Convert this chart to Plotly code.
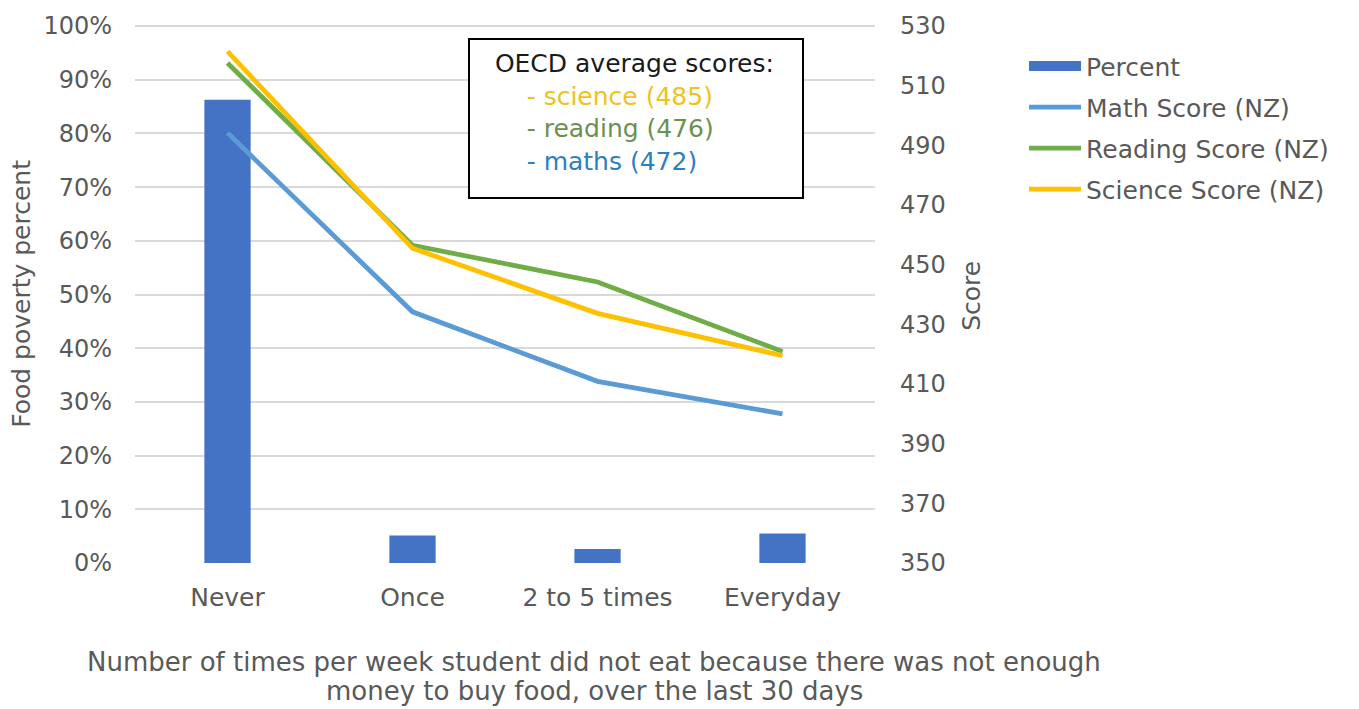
import plotly.graph_objects as go

# Frequency of going without food because of lack of money
categories = ["Never", "Once", "2 to 5 times", "Everyday"]
percent = [0.863, 0.051, 0.026, 0.055]
math_score = [494.2, 434.2, 410.9, 400.0]
reading_score = [517.6, 456.5, 444.2, 420.9]
science_score = [521.5, 455.5, 433.7, 419.5]

oecd_labels = ["science", "reading", "maths"]
oecd_values = [485, 476, 472]
oecd_colors = ["#EEC220", "#6B9150", "#2E7FC0"]

FONT = "DejaVu Sans"
GREY = "#595959"
BAR_BLUE = "#4472C4"

# plot area in pixels, used to place the free-floating text
L, R, T, B = 135, 875, 21.6, 562.7
W, H = R - L, B - T

# a hair of headroom so the 100% / 530 gridline is drawn inside the frame
PCT_TOP = 1.002
SCORE_TOP = 350 + 180 * PCT_TOP


def px_x(x):
    return (x - L) / W


def px_y(y):
    return 1 - (y - T) / H


fig = go.Figure()
fig.add_trace(go.Bar(
    x=categories, y=percent, name="Percent",
    marker=dict(color=BAR_BLUE, line=dict(width=0)),
    width=0.25, yaxis="y", showlegend=False,
))
# legend swatch for the bars, drawn as a thick bar-coloured stroke
fig.add_trace(go.Scatter(
    x=[None], y=[None], name="Percent", mode="lines",
    line=dict(color=BAR_BLUE, width=14), legendgroup="p",
))
for name, vals, col, grp in [
    ("Math Score (NZ)", math_score, "#5B9BD5", "m"),
    ("Reading Score (NZ)", reading_score, "#70AD47", "r"),
    ("Science Score (NZ)", science_score, "#FFC000", "s"),
]:
    fig.add_trace(go.Scatter(
        x=categories, y=vals, name=name, mode="lines",
        line=dict(color=col, width=4.8), yaxis="y2", legendgroup=grp,
    ))

lead = "&nbsp;" * 2
indent = "&nbsp;" * 6
box_lines = [f"{lead}OECD average scores:"] + [
    f"<span style='color:{c}'>{indent}- {l} ({v})</span>"
    for l, v, c in zip(oecd_labels, oecd_values, oecd_colors)
]
fig.add_annotation(
    xref="paper", yref="paper", x=px_x(468), y=px_y(35),
    xanchor="left", yanchor="top",
    text="<br>".join(box_lines), align="left", valign="top", showarrow=False,
    font=dict(family=FONT, size=25, color="#1a1a1a"),
    width=314, height=139, borderpad=9,
    bordercolor="#000000", borderwidth=2, bgcolor="white",
)

# axis titles
x_title = [
    "Number of times per week student did not eat because there was not enough",
    "money to buy food, over the last 30 days",
]
for line, ypix in zip(x_title, [662, 691]):
    fig.add_annotation(
        xref="paper", yref="paper", x=px_x(594), y=px_y(ypix),
        xanchor="center", yanchor="middle", showarrow=False,
        text=line, font=dict(family=FONT, size=26, color=GREY),
    )
fig.add_annotation(
    xref="paper", yref="paper", x=px_x(22), y=px_y(292),
    xanchor="center", yanchor="middle", showarrow=False, textangle=-90,
    text="Food poverty percent", font=dict(family=FONT, size=25, color=GREY),
)
fig.add_annotation(
    xref="paper", yref="paper", x=px_x(972), y=px_y(294),
    xanchor="center", yanchor="middle", showarrow=False, textangle=-90,
    text="Score", font=dict(family=FONT, size=25, color=GREY),
)

fig.update_layout(
    width=1359, height=709,
    margin=dict(l=L, r=1359 - R, t=T, b=709 - B),
    plot_bgcolor="white", paper_bgcolor="white",
    font=dict(family=FONT, size=24, color=GREY),
    showlegend=True,
    legend=dict(x=px_x(1024), y=px_y(40), xanchor="left", yanchor="top",
                font=dict(family=FONT, size=25, color=GREY),
                traceorder="grouped", tracegroupgap=5.5, itemwidth=52,
                bgcolor="rgba(0,0,0,0)"),
    xaxis=dict(
        showgrid=False, showline=False, ticks="", ticklabelstandoff=17,
        tickfont=dict(size=25, color=GREY),
    ),
    yaxis=dict(
        range=[0, PCT_TOP], dtick=0.1, tickformat=".0%",
        showgrid=True, gridcolor="#D9D9D9", gridwidth=1.5,
        zeroline=False, showline=False, ticks="", ticklabelstandoff=22,
        tickfont=dict(size=24, color=GREY),
    ),
    yaxis2=dict(
        range=[350, SCORE_TOP], tick0=350, dtick=20, overlaying="y", side="right",
        showgrid=False, zeroline=False, showline=False, ticks="",
        ticklabelstandoff=24,
        tickfont=dict(size=24, color=GREY),
    ),
)

fig.write_html("out.html")
